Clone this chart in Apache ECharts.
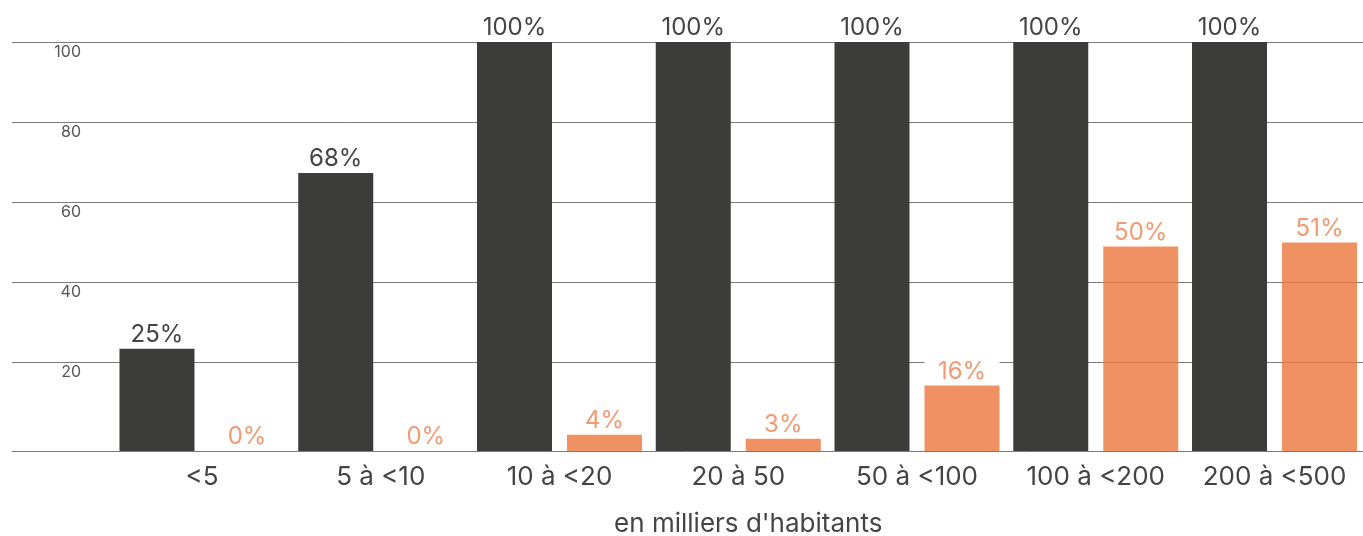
<!DOCTYPE html>
<html>
<head>
<meta charset="utf-8">
<script src="https://cdn.jsdelivr.net/npm/echarts@6/dist/echarts.min.js"></script>
<style>
html,body{margin:0;padding:0;background:#fff;}
#chart{width:1363px;height:536px;}
</style>
</head>
<body>
<div id="chart"></div>
<script>
// ---- data ----
const categories = ['<5', '5 à <10', '10 à <20', '20 à 50', '50 à <100', '100 à <200', '200 à <500'];
const darkValues = [25, 68, 100, 100, 100, 100, 100];
const orangeValues = [0, 0, 4, 3, 16, 50, 51];
const yTickValues = [20, 40, 60, 80, 100];
const axisTitle = "en milliers d'habitants";

const FONT = 'Inter';
const DARK = '#3c3c3a';
const ORANGE = 'rgba(236,118,60,0.8)';
const LINE = '#7a7a7a';

const chart = echarts.init(document.getElementById('chart'), null, {renderer: 'canvas'});

const barLabel = (color) => ({
  show: true,
  position: 'top',
  distance: 2,
  formatter: '{c}%',
  fontFamily: FONT,
  fontSize: 24,
  color: color,
  width: 75,
  align: 'center',
  backgroundColor: '#fff'
});

chart.setOption({
  animation: false,
  backgroundColor: '#fff',
  grid: [
    {left: 112.6, width: 1251.3, top: 42, height: 409, outerBoundsMode: 'none', containLabel: false},
    {left: 12, right: 0, top: 42, height: 320, outerBoundsMode: 'none', containLabel: false}
  ],
  xAxis: [
    {
      gridIndex: 0,
      type: 'category',
      data: categories,
      axisLine: {show: false},
      axisTick: {show: false},
      axisLabel: {interval: 0, hideOverlap: false, fontFamily: FONT, fontSize: 26, color: '#444', margin: 13},
      name: axisTitle,
      nameLocation: 'middle',
      nameGap: 60,
      nameTextStyle: {fontFamily: FONT, fontSize: 26, color: '#444', padding: [0, 0, 0, 20]}
    },
    {
      gridIndex: 1,
      type: 'value',
      min: 0,
      max: 1,
      offset: 89,
      axisLine: {show: true, lineStyle: {color: LINE, width: 1}},
      axisTick: {show: false},
      axisLabel: {show: false},
      splitLine: {show: false}
    }
  ],
  yAxis: [
    {
      gridIndex: 0,
      type: 'value',
      min: 0,
      max: 100,
      show: false,
      splitLine: {show: false}
    },
    {
      gridIndex: 1,
      type: 'value',
      min: yTickValues[0],
      max: yTickValues[yTickValues.length - 1],
      interval: yTickValues[1] - yTickValues[0],
      axisLine: {show: false},
      axisTick: {show: false},
      splitLine: {show: true, lineStyle: {color: LINE, width: 1}},
      axisLabel: {
        inside: true,
        margin: 69,
        align: 'right',
        verticalAlign: 'top',
        lineHeight: 21,
        fontFamily: FONT,
        fontSize: 16,
        color: '#555'
      }
    }
  ],
  series: [
    {
      type: 'bar',
      xAxisIndex: 0,
      yAxisIndex: 0,
      data: darkValues,
      barWidth: 75,
      barGap: '20%',
      itemStyle: {color: DARK},
      label: barLabel('#444')
    },
    {
      type: 'bar',
      xAxisIndex: 0,
      yAxisIndex: 0,
      data: orangeValues,
      barWidth: 75,
      barGap: '20%',
      itemStyle: {color: ORANGE},
      label: barLabel('#f29a70')
    }
  ]
});
</script>
</body>
</html>
